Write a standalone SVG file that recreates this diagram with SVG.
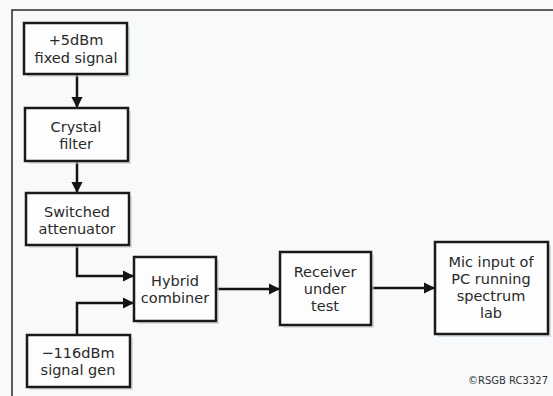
<svg xmlns="http://www.w3.org/2000/svg" width="553" height="396" viewBox="0 0 553 396">
<style>
.bx{fill:#fdfdfd;stroke:#1a1a1a;stroke-width:2.5}
.sh{fill:#c8ccd0;opacity:0.6}
.t{font-family:"DejaVu Sans",sans-serif;font-size:14.5px;fill:#2a2a2a;text-anchor:middle}
.c{fill:none;stroke:#141414;stroke-width:2.5}
</style>
<defs>
<marker id="ah" viewBox="0 0 10 10" refX="9" refY="5" markerWidth="4.5" markerHeight="4.5" orient="auto" markerUnits="strokeWidth">
<path d="M0,0 L10,5 L0,10 z" fill="#141414"/>
</marker>
</defs>
<rect width="553" height="396" fill="#f7f9fb"/>
<path d="M12,396 V10 H553" fill="none" stroke="#2a2a2a" stroke-width="1.5"/>
<g id="connectors">
<path class="c" d="M77,74 V107" marker-end="url(#ah)"/>
<path class="c" d="M77,161 V192" marker-end="url(#ah)"/>
<path class="c" d="M77,245 V276 H133" marker-end="url(#ah)"/>
<path class="c" d="M77,335 V303 H133" marker-end="url(#ah)"/>
<path class="c" d="M216,289 H279" marker-end="url(#ah)"/>
<path class="c" d="M371,288 H434" marker-end="url(#ah)"/>
</g>
<g id="n1"><rect class="sh" x="27" y="26" width="103" height="51"/><rect class="bx" x="24" y="23" width="103" height="51"/>
<text class="t" x="76" y="45">+5dBm</text><text class="t" x="76" y="63">fixed signal</text></g>
<g id="n2"><rect class="sh" x="28" y="111" width="103" height="53"/><rect class="bx" x="25" y="108" width="103" height="53"/>
<text class="t" x="76" y="132">Crystal</text><text class="t" x="76" y="149">filter</text></g>
<g id="n3"><rect class="sh" x="29" y="196" width="103" height="52"/><rect class="bx" x="26" y="193" width="103" height="52"/>
<text class="t" x="77" y="217">Switched</text><text class="t" x="77" y="234">attenuator</text></g>
<g id="n4"><rect class="sh" x="137" y="260" width="82" height="64"/><rect class="bx" x="134" y="257" width="82" height="64"/>
<text class="t" x="175" y="286">Hybrid</text><text class="t" x="175" y="303">combiner</text></g>
<g id="n5"><rect class="sh" x="30" y="338" width="103" height="52"/><rect class="bx" x="27" y="335" width="103" height="52"/>
<text class="t" x="78" y="358">−116dBm</text><text class="t" x="78" y="375">signal gen</text></g>
<g id="n6"><rect class="sh" x="283" y="255" width="91" height="73"/><rect class="bx" x="280" y="252" width="91" height="73"/>
<text class="t" x="325" y="277">Receiver</text><text class="t" x="325" y="294">under</text><text class="t" x="325" y="311">test</text></g>
<g id="n7"><rect class="sh" x="438" y="245" width="113" height="92"/><rect class="bx" x="435" y="242" width="113" height="92"/>
<text class="t" x="491" y="267">Mic input of</text><text class="t" x="491" y="284">PC running</text><text class="t" x="491" y="301">spectrum</text><text class="t" x="491" y="318">lab</text></g>
<text x="548" y="384" font-family="DejaVu Sans,sans-serif" font-size="10px" fill="#333" text-anchor="end">©RSGB RC3327</text>
</svg>
